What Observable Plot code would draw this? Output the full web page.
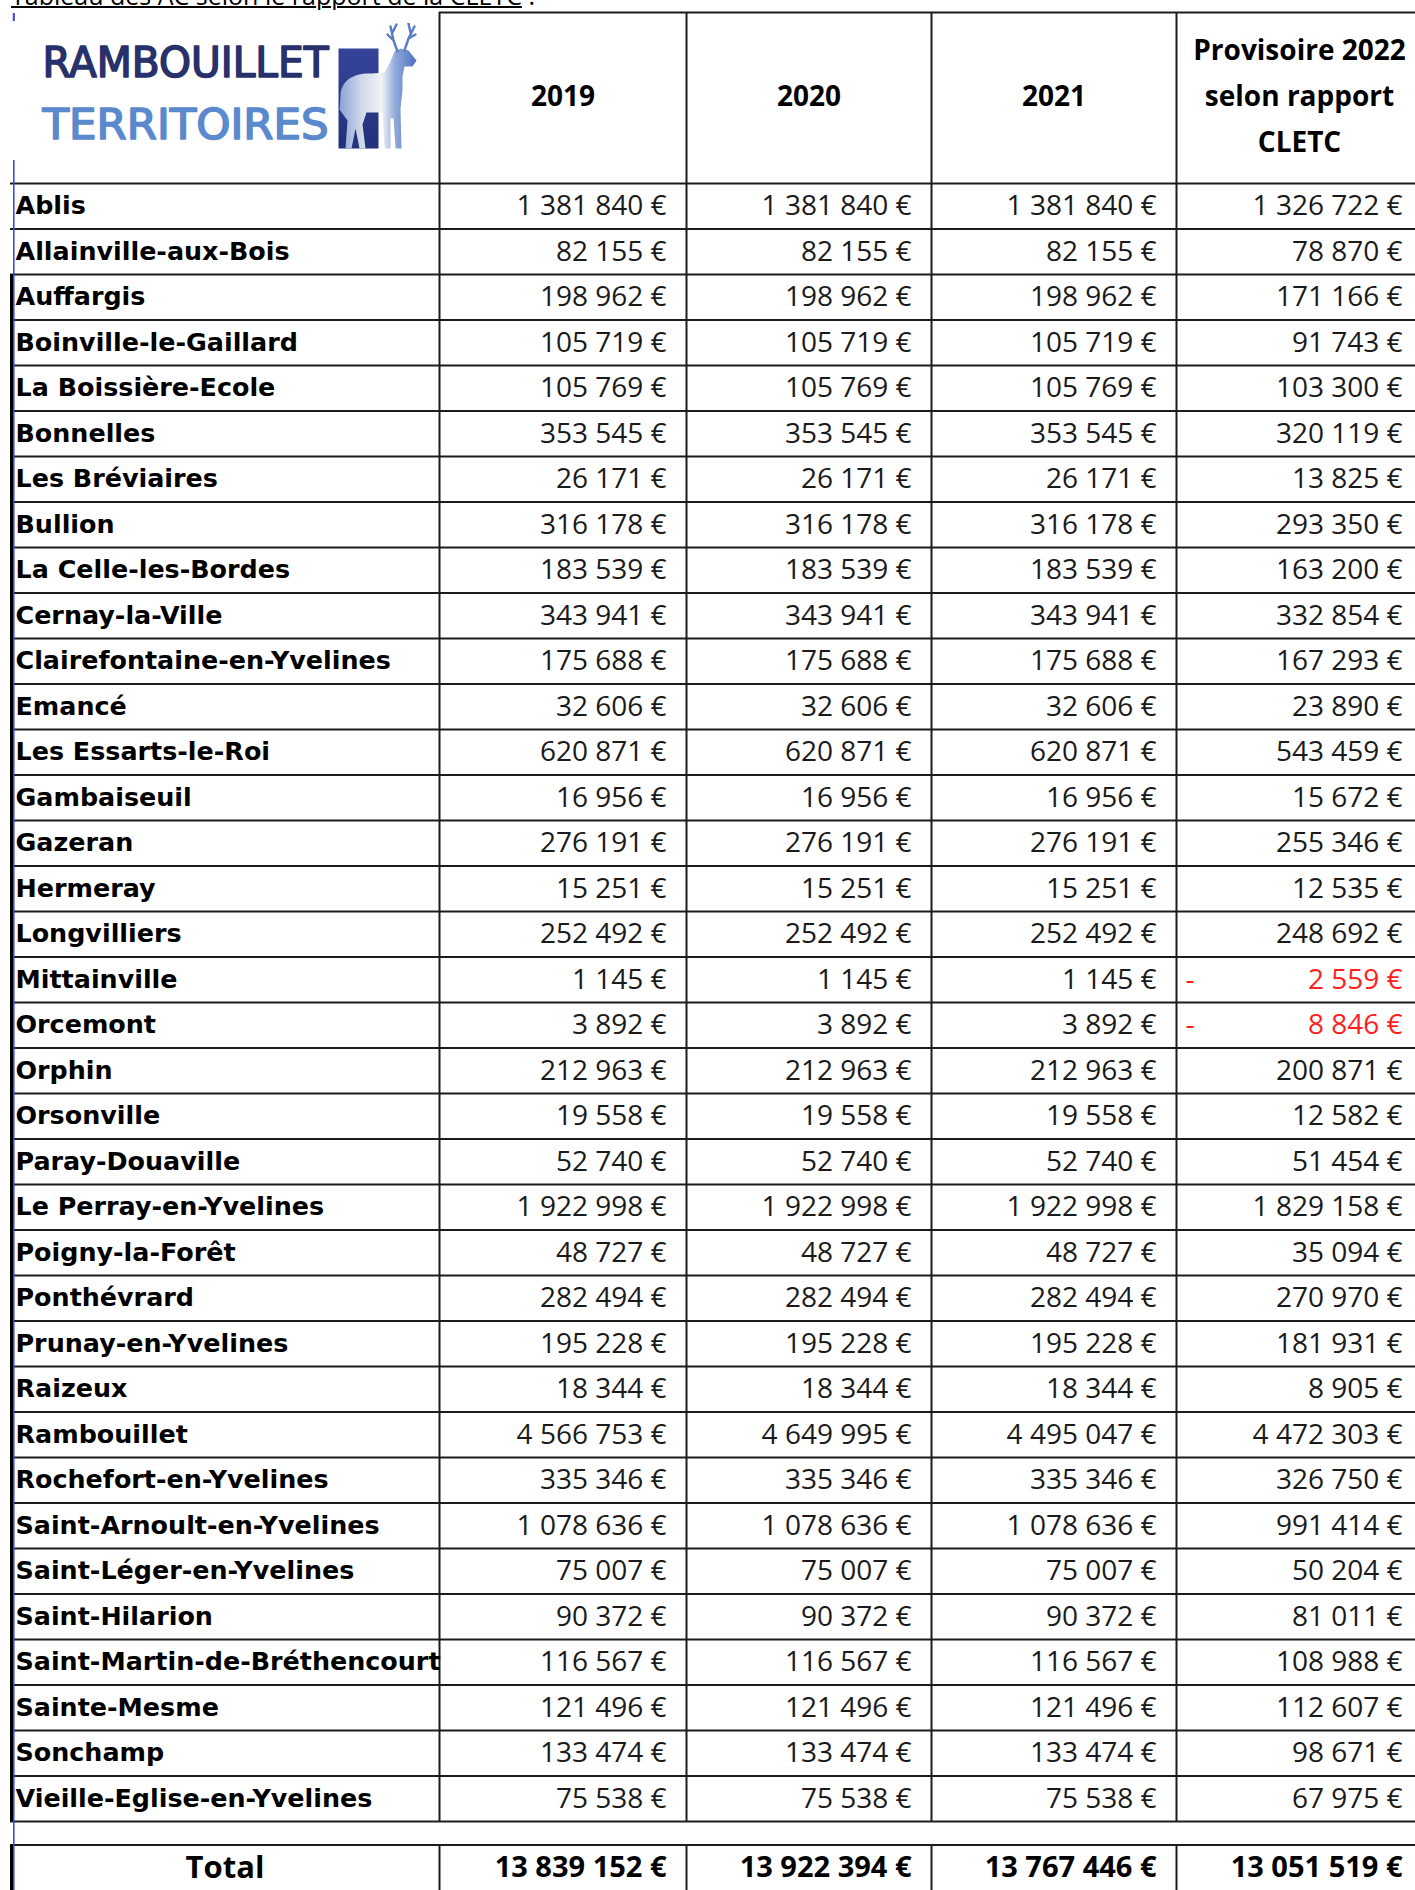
<!DOCTYPE html>
<html><head><meta charset="utf-8">
<script src="https://cdn.jsdelivr.net/npm/d3@7"></script>
<script src="https://cdn.jsdelivr.net/npm/@observablehq/plot@0.6"></script>
<style>
html,body{margin:0;padding:0;background:#fff;}
#title{position:relative;height:10px;overflow:hidden;width:1415px;}
#title div{position:absolute;left:11px;top:-17px;font-family:"Open Sans",sans-serif;font-size:25px;line-height:25px;color:#000;white-space:nowrap;}
#title u{text-decoration-thickness:2px;text-underline-offset:1px;}
#chart svg{display:block;}
</style></head><body>
<div id="title"><div><u>Tableau des AC selon le rapport de la CLETC</u> :</div></div>
<div id="chart"></div>
<script>
// ---------- data ----------
const communes = ["Ablis","Allainville-aux-Bois","Auffargis","Boinville-le-Gaillard","La Boissière-Ecole","Bonnelles","Les Bréviaires","Bullion","La Celle-les-Bordes","Cernay-la-Ville","Clairefontaine-en-Yvelines","Emancé","Les Essarts-le-Roi","Gambaiseuil","Gazeran","Hermeray","Longvilliers","Mittainville","Orcemont","Orphin","Orsonville","Paray-Douaville","Le Perray-en-Yvelines","Poigny-la-Forêt","Ponthévrard","Prunay-en-Yvelines","Raizeux","Rambouillet","Rochefort-en-Yvelines","Saint-Arnoult-en-Yvelines","Saint-Léger-en-Yvelines","Saint-Hilarion","Saint-Martin-de-Bréthencourt","Sainte-Mesme","Sonchamp","Vieille-Eglise-en-Yvelines"];
const ac2019 = [1381840,82155,198962,105719,105769,353545,26171,316178,183539,343941,175688,32606,620871,16956,276191,15251,252492,1145,3892,212963,19558,52740,1922998,48727,282494,195228,18344,4566753,335346,1078636,75007,90372,116567,121496,133474,75538];
const ac2020 = [1381840,82155,198962,105719,105769,353545,26171,316178,183539,343941,175688,32606,620871,16956,276191,15251,252492,1145,3892,212963,19558,52740,1922998,48727,282494,195228,18344,4649995,335346,1078636,75007,90372,116567,121496,133474,75538];
const ac2021 = [1381840,82155,198962,105719,105769,353545,26171,316178,183539,343941,175688,32606,620871,16956,276191,15251,252492,1145,3892,212963,19558,52740,1922998,48727,282494,195228,18344,4495047,335346,1078636,75007,90372,116567,121496,133474,75538];
const ac2022 = [1326722,78870,171166,91743,103300,320119,13825,293350,163200,332854,167293,23890,543459,15672,255346,12535,248692,-2559,-8846,200871,12582,51454,1829158,35094,270970,181931,8905,4472303,326750,991414,50204,81011,108988,112607,98671,67975];
const totals = [13839152,13922394,13767446,13051519];
const columnHeaders = ["2019","2020","2021","Provisoire 2022\nselon rapport\nCLETC"];
const totalLabel = "Total";
const logoWords = ["RAMBOUILLET","TERRITOIRES"];

// ---------- layout (page pixels) ----------
const W = 1415, H = 1880, TOP = 10;
const colEdges = [10, 439, 686, 931, 1176, 1422];
const headerTop = 12, bodyTop = 183, rowH = 45.5;
const rowTop = i => bodyTop + i * rowH;
const rowMid = i => rowTop(i) + rowH / 2;
const nRows = communes.length;
const totalTop = rowTop(nRows) + 23.5, totalMid = totalTop + rowH / 2;
const lineColor = "#1c1c1c";
const numFont = "'Open Sans', sans-serif";
const nameFont = "'DejaVu Sans', Verdana, sans-serif";

const series = [ac2019, ac2020, ac2021, ac2022];
const cells = communes.flatMap((c, i) => series.map((s, j) => ({row: i, col: j, value: s[i]})));
const fmt = v => d3.format(",")(Math.abs(v)).replace(/,/g, "\u00a0") + "\u00a0€";
const cellRight = j => colEdges[j + 2] - 20;
const colMid = j => (colEdges[j + 1] + colEdges[j + 2]) / 2;

// logo image (square + deer emblem)
const logoSvg = `<svg xmlns="http://www.w3.org/2000/svg" width="82" height="128" viewBox="0 0 82 128">
<defs>
<linearGradient id="sq" x1="0" y1="0" x2="0" y2="1"><stop offset="0" stop-color="#34449a"/><stop offset="1" stop-color="#23307a"/></linearGradient>
<linearGradient id="dr" x1="0" y1="0" x2="1" y2="0">
<stop offset="0" stop-color="#8aa4d6"/><stop offset="0.3" stop-color="#d3dbea"/><stop offset="0.55" stop-color="#f1f3f7"/><stop offset="0.72" stop-color="#93abdb"/><stop offset="1" stop-color="#4a6fc0"/></linearGradient>
</defs>
<rect x="2" y="26" width="40" height="100" fill="url(#sq)"/>
<path d="M4 74 C4 56 20 50 35 51 L48 50 L54 39 L58 29 L64 26 L72 28 L80 38 L76 44 L68 44 L66 54 L66 68 L64 86 L65 126 L59 126 L57 96 L54 96 L54 126 L48 126 L46 90 L30 90 L26 102 L29 126 L23 126 L19 106 L15 126 L9 126 L11 98 L3 87 Z" fill="url(#dr)"/>
<g stroke="#5a7cc4" stroke-width="2.4" fill="none" stroke-linecap="round">
<path d="M61 29 L57 18 L54 4 M57 18 L51 12 M56 10 L60 2"/>
<path d="M68 28 L72 16 L78 4 M72 16 L79 12 M74 10 L72 1"/>
</g></svg>`;
const logoSrc = "data:image/svg+xml;charset=utf-8," + encodeURIComponent(logoSvg);

const chart = Plot.plot({
  width: W, height: H, margin: 0,
  x: {type: "linear", domain: [0, W], range: [0, W], axis: null},
  y: {type: "linear", domain: [TOP, TOP + H], range: [0, H], axis: null},
  style: {background: "#fff"},
  marks: [
    // horizontal grid lines
    Plot.ruleY(d3.range(nRows + 1), {y: i => rowTop(i), x1: colEdges[0], x2: colEdges[5], stroke: lineColor, strokeWidth: 2}),
    Plot.ruleY([headerTop], {x1: colEdges[1], x2: colEdges[5], stroke: lineColor, strokeWidth: 2}),
    Plot.ruleY([totalTop], {x1: colEdges[0], x2: colEdges[5], stroke: lineColor, strokeWidth: 2}),
    // vertical column lines
    Plot.ruleX(colEdges.slice(1, 5), {y1: headerTop, y2: rowTop(nRows), stroke: lineColor, strokeWidth: 2}),
    Plot.ruleX(colEdges.slice(1, 5), {y1: totalTop, y2: TOP + H + 5, stroke: lineColor, strokeWidth: 2}),
    // left border
    Plot.ruleX([11], {y1: rowTop(2), y2: rowTop(nRows), stroke: "#000", strokeWidth: 3}),
    Plot.ruleX([11], {y1: totalTop, y2: TOP + H + 5, stroke: "#000", strokeWidth: 3}),
    Plot.ruleX([13.3], {y1: 160, y2: TOP + H + 5, stroke: "#3340f0", strokeWidth: 1.5}),
    Plot.ruleX([13.3], {y1: 13, y2: 21, stroke: "#3340f0", strokeWidth: 2}),
    // logo
    Plot.image([0], {x: 377, y: 86, width: 82, height: 128, src: () => logoSrc}),
    Plot.text(logoWords, {x: 42, y: (d, i) => [63, 124.5][i], text: d => d, textAnchor: "start",
      fontFamily: "'DejaVu Sans Condensed', 'DejaVu Sans', sans-serif", fontSize: 43, fontWeight: "normal",
      stroke: (d, i) => ["#28316b", "#5b89cd"][i], strokeWidth: 1.5,
      fill: (d, i) => ["#28316b", "#5b89cd"][i]}),
    // headers
    Plot.text(columnHeaders, {x: (d, j) => colMid(j), y: 91, text: d => d, textAnchor: "middle",
      fontFamily: numFont, fontWeight: "bold", fontSize: 28, lineHeight: 1.64, fill: "#000"}),
    // commune names
    Plot.text(communes, {x: 15, y: (d, i) => rowMid(i), text: d => d, textAnchor: "start",
      fontFamily: nameFont, fontWeight: "bold", fontSize: 25.4, fill: "#000"}),
    // values
    Plot.text(cells, {x: d => cellRight(d.col), y: d => rowMid(d.row), text: d => fmt(d.value), textAnchor: "end",
      fontFamily: numFont, fontSize: 28, fill: d => d.value < 0 ? "#ff1e1e" : "#1a1a1a"}),
    Plot.text(cells.filter(d => d.value < 0), {x: d => colEdges[d.col + 1] + 9, y: d => rowMid(d.row), text: () => "-",
      textAnchor: "start", fontFamily: numFont, fontSize: 28, fill: "#ff1e1e"}),
    // total row
    Plot.text([totalLabel], {x: (colEdges[0] + colEdges[1]) / 2, y: totalMid, text: d => d, textAnchor: "middle",
      fontFamily: numFont, fontWeight: "bold", fontSize: 31, fill: "#000"}),
    Plot.text(totals, {x: (d, j) => cellRight(j), y: totalMid, text: d => fmt(d), textAnchor: "end",
      fontFamily: numFont, fontWeight: "bold", fontSize: 29, fill: "#000"})
  ]
});
// fit the logo words to the logo width
chart.querySelectorAll("text").forEach(t => {
  if (logoWords.includes(t.textContent)) {
    t.setAttribute("textLength", "286");
    t.setAttribute("lengthAdjust", "spacingAndGlyphs");
  }
});
document.getElementById("chart").appendChild(chart);
</script>
</body></html>
